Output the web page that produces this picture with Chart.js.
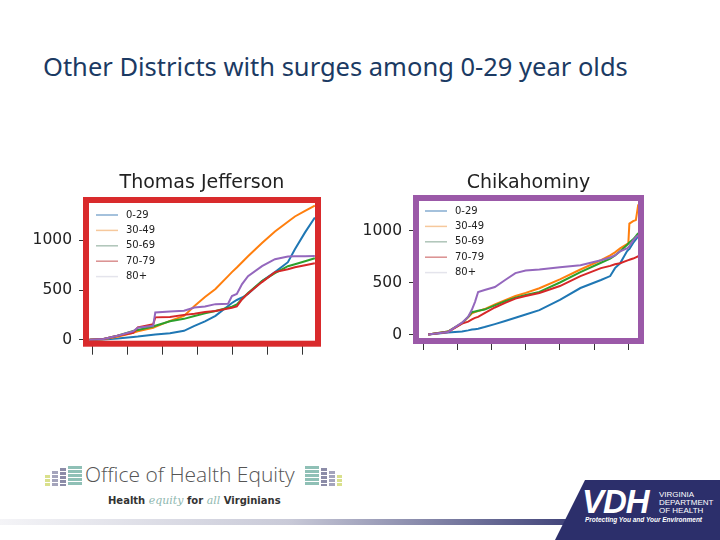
<!DOCTYPE html>
<html>
<head>
<meta charset="utf-8">
<script src="https://cdn.jsdelivr.net/npm/chart.js@4.4.1/dist/chart.umd.min.js"></script>
<style>
  body { margin: 0; width: 720px; height: 540px; overflow: hidden; background: #fff; position: relative; font-family: "DejaVu Sans", sans-serif; }
  .abs { position: absolute; }
  #slideTitle { left: 43px; top: 49px; font: 25.5px "Noto Sans", sans-serif; color: #1b3a63; white-space: nowrap; }
  canvas { position: absolute; }
  .bar { position: absolute; background: repeating-linear-gradient(to bottom, var(--c) 0 3px, transparent 3px 4px); }
  #ohe { left: 85px; top: 460px; font: 300 21px "Open Sans", sans-serif; color: #555; white-space: nowrap; }
  #tagline { left: 108px; top: 494px; font: bold 10px "DejaVu Sans", sans-serif; color: #333; white-space: nowrap; }
  #tagline i { font: italic 300 11px "DejaVu Serif", serif; color: #8fb8b0; font-weight: normal; }
  #band { left: 0; top: 519px; width: 720px; height: 6px; background: linear-gradient(to right, #f4f4f7, #c9cad8 40%, #2c2f6b 85%); }
  #vdh { left: 555px; top: 480px; width: 165px; height: 60px; background: #2c2f6b; clip-path: polygon(30px 0, 165px 0, 165px 60px, 0 60px); }
  #vdhBig { left: 582px; top: 483px; font: italic bold 33px "Liberation Sans", sans-serif; color: #fff; letter-spacing: -1px; }
  #vdhName { left: 659px; top: 491px; font: 8px "Liberation Sans", sans-serif; color: #fff; line-height: 8px; }
  #vdhMotto { left: 585px; top: 516px; font: italic bold 6.5px "Liberation Sans", sans-serif; color: #fff; white-space: nowrap; }
</style>
</head>
<body>
<div id="slideTitle" class="abs">Other Districts with surges among 0-29 year olds</div>

<canvas id="tj" width="310" height="200" style="left:20px;top:160px"></canvas>
<canvas id="chik" width="310" height="200" style="left:350px;top:160px"></canvas>

<div class="bar" style="--c:#d9e08c;left:45px;top:475px;width:5px;height:11px"></div>
<div class="bar" style="--c:#a4a4bc;left:52px;top:471px;width:6px;height:15px"></div>
<div class="bar" style="--c:#8c8ca8;left:60px;top:468px;width:6px;height:18px"></div>
<div class="bar" style="--c:#8fc0b6;left:68px;top:466px;width:14px;height:20px"></div>
<div id="ohe" class="abs">Office of Health Equity</div>
<div class="bar" style="--c:#8fc0b6;left:305px;top:466px;width:14px;height:20px"></div>
<div class="bar" style="--c:#8c8ca8;left:321px;top:468px;width:6px;height:18px"></div>
<div class="bar" style="--c:#a4a4bc;left:329px;top:471px;width:6px;height:15px"></div>
<div class="bar" style="--c:#d9e08c;left:337px;top:475px;width:5px;height:11px"></div>
<div id="tagline" class="abs">Health <i>equity</i> for <i>all</i> Virginians</div>

<div id="band" class="abs"></div>
<div id="vdh" class="abs"></div>
<div id="vdhBig" class="abs">VDH</div>
<div id="vdhName" class="abs">VIRGINIA<br>DEPARTMENT<br>OF HEALTH</div>
<div id="vdhMotto" class="abs">Protecting You and Your Environment</div>

<script>
// age groups and colours
const ageGroups = ['0-29', '30-49', '50-69', '70-79', '80+'];
const lineColors = ['#1f77b4', '#ff7f0e', '#2ca02c', '#d62728', '#9467bd'];
const legendColors = ['#86acd0', '#f6c89c', '#aec4b8', '#da8f8f', '#e4e4ec'];
const yTicks = [0, 500, 1000];
const xTickDays = [0, 10, 20, 30, 40, 50, 60];

// Thomas Jefferson (cumulative cases)
const tjDays = [-1, 3, 7, 11.5, 12.8, 17.2, 17.8, 22, 26, 29, 32, 35, 38.6, 39.7, 41.1, 42.6, 44.3, 48.3, 52, 55.7, 57.7, 60.6, 63.4];
const tj0_29  = [0, 3, 12, 28, 32, 50, 52, 65, 90, 140, 185, 240, 340, 370, 400, 425, 460, 590, 680, 780, 910, 1080, 1230];
const tj30_49 = [0, 5, 30, 70, 85, 120, 130, 190, 240, 340, 430, 510, 640, 680, 727, 780, 840, 973, 1090, 1187, 1240, 1296, 1350];
const tj50_69 = [0, 7, 40, 88, 98, 133, 140, 185, 210, 238, 265, 290, 322, 332, 355, 410, 470, 590, 670, 740, 760, 790, 820];
const tj70_79 = [0, 7, 40, 70, 125, 155, 225, 228, 250, 262, 278, 290, 315, 322, 335, 408, 466, 580, 680, 710, 730, 750, 770];
const tj80    = [0, 7, 40, 85, 120, 140, 275, 285, 292, 325, 335, 358, 362, 440, 460, 560, 640, 740, 810, 838, 840, 840, 842];

// Chikahominy
const chDays = [1.5, 7.3, 11.4, 13.2, 14.3, 15.2, 16.1, 18, 21, 24, 27, 30, 34, 40, 46, 52, 54.7, 56.1, 57.6, 59.6, 60.0, 60.3, 61.4, 62.2, 62.9];
const ch0_29  = [0, 19, 30, 40, 48, 52, 56, 72, 100, 130, 162, 192, 235, 333, 447, 524, 562, 638, 685, 800, 815, 822, 880, 915, 945];
const ch30_49 = [0, 29, 110, 165, 205, 215, 225, 245, 290, 330, 370, 400, 445, 530, 625, 714, 760, 790, 828, 868, 876, 1066, 1090, 1100, 1250];
const ch50_69 = [0, 29, 110, 170, 215, 222, 228, 240, 280, 320, 355, 380, 410, 500, 600, 690, 730, 760, 800, 860, 875, 885, 915, 945, 975];
const ch70_79 = [0, 25, 105, 124, 145, 160, 170, 205, 260, 305, 345, 370, 400, 466, 562, 638, 660, 675, 685, 710, 715, 718, 730, 742, 752];
const ch80    = [0, 25, 114, 171, 240, 314, 409, 428, 457, 524, 590, 615, 625, 647, 666, 714, 740, 760, 800, 828, 840, 850, 904, 935, 955];

// frame round the plot + legend inside it
const framePlugin = {
  id: 'frame',
  afterDatasetsDraw(chart, args, opts) {
    const ctx = chart.ctx, a = chart.chartArea;
    ctx.save();
    ctx.strokeStyle = opts.color;
    ctx.lineWidth = 6;
    ctx.strokeRect(a.left, a.top, a.right - a.left, a.bottom - a.top);
    ctx.font = '10px "DejaVu Sans"';
    ctx.textBaseline = 'middle';
    ageGroups.forEach((g, i) => {
      const y = a.top + opts.legendTop + i * 15.4;
      ctx.strokeStyle = legendColors[i];
      ctx.lineWidth = 1.5;
      ctx.beginPath();
      ctx.moveTo(a.left + opts.lineFrom, y);
      ctx.lineTo(a.left + opts.lineFrom + 22, y);
      ctx.stroke();
      ctx.fillStyle = '#222';
      ctx.fillText(g, a.left + opts.lineFrom + 30, y);
    });
    ctx.restore();
  }
};

function makeChart(id, title, days, series, s) {
  new Chart(document.getElementById(id), {
    type: 'line',
    data: {
      datasets: series.map((vals, i) => ({
        label: ageGroups[i],
        data: days.map((d, j) => ({ x: d, y: vals[j] })),
        borderColor: lineColors[i],
        borderWidth: 2,
        pointRadius: 0,
        tension: 0,
        order: 5 - i
      }))
    },
    options: {
      responsive: false,
      animation: false,
      events: [],
      layout: { padding: { left: 0, right: s.padRight, top: 0, bottom: 0 } },
      scales: {
        x: {
          type: 'linear', min: s.xMin, max: s.xMax,
          afterBuildTicks: sc => { sc.ticks = xTickDays.map(v => ({ value: v })); },
          afterFit: sc => { sc.height = s.xHeight; },
          ticks: { callback: () => '', autoSkip: false },
          grid: { drawOnChartArea: false, tickLength: s.tickLen, color: '#333' },
          border: { display: false }
        },
        y: {
          min: s.yMin, max: s.yMax,
          afterBuildTicks: sc => { sc.ticks = yTicks.map(v => ({ value: v })); },
          afterFit: sc => { sc.width = 66; },
          ticks: { padding: 7, color: '#222', font: { family: 'DejaVu Sans', size: 15.5 }, callback: v => String(v) },
          grid: { drawOnChartArea: false, tickLength: 7, color: '#333' },
          border: { display: false }
        }
      },
      plugins: {
        legend: { display: false },
        tooltip: { enabled: false },
        title: {
          display: true, text: title, fullSize: false, color: '#222',
          font: { family: 'DejaVu Sans', size: 19, weight: 'normal' },
          padding: { top: 12, bottom: s.titleBottom }
        },
        frame: { color: s.frameColor, legendTop: s.legendTop, lineFrom: s.lineFrom }
      }
    },
    plugins: [framePlugin]
  });
}

makeChart('tj', 'Thomas Jefferson', tjDays, [tj0_29, tj30_49, tj50_69, tj70_79, tj80], {
  padRight: 12, xMin: -2, xMax: 64.3, yMin: -40, yMax: 1406, xHeight: 14, tickLen: 11,
  titleBottom: 5.2, frameColor: '#d92a2c', legendTop: 15, lineFrom: 10
});
makeChart('chik', 'Chikahominy', chDays, [ch0_29, ch30_49, ch50_69, ch70_79, ch80], {
  padRight: 19, xMin: -2.05, xMax: 63.7, yMin: -62, yMax: 1312, xHeight: 19, tickLen: 9,
  titleBottom: 3.2, frameColor: '#9b59a8', legendTop: 13, lineFrom: 9
});
</script>
</body>
</html>
